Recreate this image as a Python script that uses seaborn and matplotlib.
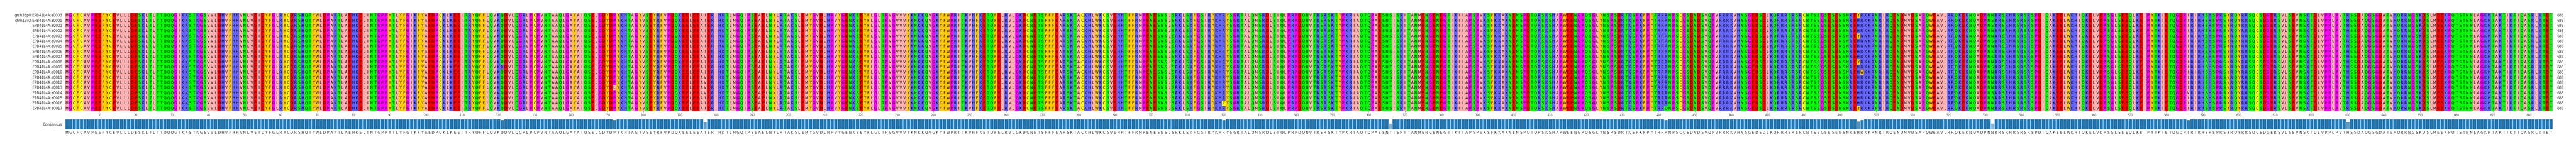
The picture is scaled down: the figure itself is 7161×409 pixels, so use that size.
import numpy as np
import pandas as pd
import matplotlib
matplotlib.use("Agg")
import matplotlib.pyplot as plt
from matplotlib.colors import ListedColormap, to_rgb
import seaborn as sns

ROW_NAMES = ["grch38p0:EPB41L4A:a0003", "chm13v2:EPB41L4A:a0001"] + \
    ["EPB41L4A:a%04d" % i for i in range(1, 18)]

BASE_SEQ = (
    "MGCFCAVPEEFYCEVLLLDESKLTLTTQQQGIKKSTKGSVVLDHVFHHVNLVEIDYFGLRYCDRSHQTY"
    "WLDPAKTLAEHKELINTGPPYTLYFGIKFYAEDPCKLKEEITRYQFFLQVKQDVLQGRLPCPVNTAAQ"
    "LGAYAIQSELGDYDPYKHTAGYVSEYRFVPDQKEELEEAIERIHKTLMGQIPSEAELNYLRTAKSLEMY"
    "GVDLHPVYGENKSEYFLGLTPVGVVVYKNKKQVGKYFWPRITKVHFKETQFELRVLGKDCNETSFFFE"
    "ARSKTACKHLWKCSVEHHTFFRMPENESNSLSRKLSKFGSIRYKHRYSGRTALQMSRDLSIQLPRPDQN"
    "VTRSRSKTYPKRIAQTQPAESNTISRITANMENGENEGTIKIIAPSPVKSFKKAKNENSPDTQRSKSH"
    "APWEENGPQSGLYNSPSDRTKSPKFPYTRRRNPSCGSDNDSVQPVRRRKAHNSGEDSDLKQRRRSRSR"
    "CNTSSGSESENSNREHRKKRNRIRQENDMVDSAPQWEAVLRRQKEKNQADPNNRRSRHRSRSRSPDIQA"
    "KEELWKHIQKELVDPSGLSEEQLKEIPYTKIETQGDPIRIRHSHSPRSYRQYRRSQCSDGERSVLSEV"
    "NSKTDLVPPLPVTHSSDAQGSGDATVHQRRNGSKDSLMEEKPQTSTNNLAGKHTAKTIKTIQASRLKTET"
)

# (position 1-based, residue, rows)
VARIANTS = [
    (121, "R", [10]),
    (152, "L", [14]),
    (177, "V", [8, 12, 13, 14, 15]),
    (320, "C", [17]),
    (366, "S", [0, 3, 4, 7, 9, 11, 12, 18]),
    (442, "Q", [18]),
    (495, "Y", [0, 4, 9, 18]),
    (496, "W", [11]),
    (532, "S", [1, 2, 5, 7, 8, 10, 15, 16]),
    (586, "V", [15]),
    (630, "R", [0, 4, 5, 17, 18]),
]

GROUP_COLORS = {
    "AVLIM": "#ffafaf",
    "FYW": "#ffc800",
    "GP": "#ff00ff",
    "C": "#ffff00",
    "DE": "#ff0000",
    "STNQ": "#00ff00",
    "KRH": "#6464ff",
}

seqs = [list(BASE_SEQ) for _ in ROW_NAMES]
for pos, res, rows in VARIANTS:
    for r in rows:
        seqs[r][pos - 1] = res
aln = np.array(seqs)
nrow, ncol = aln.shape

letters = "".join(GROUP_COLORS.keys())
color_list = []
code = {}
for grp, col in GROUP_COLORS.items():
    for ch in grp:
        code[ch] = len(color_list)
        color_list.append(col)
codes = np.vectorize(code.get)(aln)
cmap = ListedColormap(color_list)

# consensus
cons = []
frac = []
for j in range(ncol):
    vals, cnt = np.unique(aln[:, j], return_counts=True)
    k = np.argmax(cnt)
    cons.append(vals[k])
    frac.append(cnt[k] / nrow)

W, H = 7161, 409
fig = plt.figure(figsize=(W / 100, H / 100), dpi=100)
sns.set_style("white")
plt.rcParams["font.family"] = ["DejaVu Sans"]

x0, x1 = 181 / W, 7096 / W
ax = fig.add_axes([x0, 1 - 309 / H, x1 - x0, (309 - 36) / H])
sns.heatmap(codes, ax=ax, cmap=cmap, vmin=-0.5, vmax=len(color_list) - 0.5,
            cbar=False, annot=aln, fmt="", linewidths=0,
            annot_kws={"fontsize": 7, "color": "black"})
ax.set_yticks(np.arange(nrow) + 0.5)
ax.set_yticklabels(ROW_NAMES, fontsize=7, rotation=0)
ticks = np.arange(10, ncol + 1, 10)
ax.set_xticks(ticks - 0.5)
ax.set_xticklabels([str(t) for t in ticks], fontsize=5.5, color="#333333", rotation=0)
ax.tick_params(axis="y", length=0, pad=6)
ax.tick_params(axis="x", length=3, width=0.6, color="#333333", pad=2, bottom=True)
for i, s in enumerate(seqs):
    n = len([c for c in s if c != "-"])
    ax.text(ncol + 1.2, i + 0.5, str(n), fontsize=7, va="center", ha="left")

ax2 = fig.add_axes([x0, 1 - 360 / H, x1 - x0, (360 - 331) / H])
base = np.array(to_rgb("#1f77b4"))
bar_cols = []
for v in frac:
    t = min(1.0, (1 - v) * 1.1)
    bar_cols.append(tuple(base * (1 - t) + np.ones(3) * t))
df = pd.DataFrame({"pos": np.arange(ncol), "frac": frac})
sns.barplot(data=df, x="pos", y="frac", hue="pos", palette=bar_cols, legend=False,
            ax=ax2, width=1.0, edgecolor="white", linewidth=0.8, saturation=1)
ax2.set_xlim(-0.5, ncol - 0.5)
ax2.set_ylim(0, 1)
ax2.set_xticks(np.arange(ncol))
ax2.set_xticklabels(cons, fontsize=7)
ax2.tick_params(axis="x", length=0, pad=3)
ax2.set_yticks([0.5])
ax2.set_yticklabels(["Consensus"], fontsize=7)
ax2.tick_params(axis="y", length=0, pad=6)
ax2.set_xlabel("")
ax2.set_ylabel("")
for sp in ax2.spines.values():
    sp.set_visible(False)

fig.savefig("out.png", dpi=100)
